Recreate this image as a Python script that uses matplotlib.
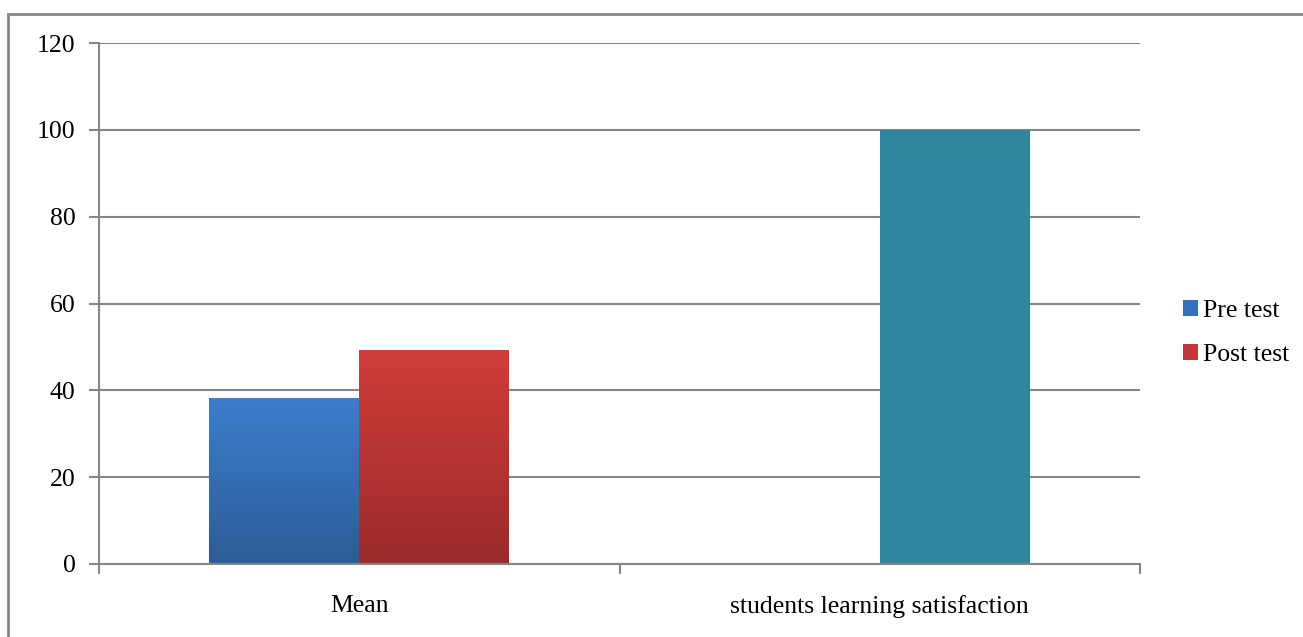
import matplotlib
matplotlib.use("Agg")
import matplotlib.pyplot as plt
import numpy as np
from matplotlib.patches import Rectangle, Patch
from matplotlib.colors import LinearSegmentedColormap

categories = ["Mean", "students learning satisfaction"]
series_names = ["Pre test", "Post test"]
pre_test = [38.3, None]
post_test = [49.4, 100]
yticks = [0, 20, 40, 60, 80, 100, 120]

plt.rcParams['font.family'] = ['Liberation Serif', 'DejaVu Serif']

W, H = 1303, 637
fig = plt.figure(figsize=(W / 100, H / 100), dpi=100)
ax = fig.add_axes([99 / W, 1 - 564 / H, (1140 - 99) / W, (564 - 43) / H])

grid_c = "#868686"
x = np.arange(len(categories))
bw = 0.288

def grad_bar(xc, h, top, bottom):
    bars = ax.bar(xc, h, bw, color=top, zorder=3, linewidth=0)
    b = bars[0]
    cmap = LinearSegmentedColormap.from_list("g", [bottom, top])
    grad = np.linspace(0, 1, 256).reshape(-1, 1)
    im = ax.imshow(grad, cmap=cmap, origin="lower", aspect="auto",
                   extent=[xc - bw / 2, xc + bw / 2, 0, h], zorder=3.5)
    im.set_clip_path(b)

# Pre test
grad_bar(x[0] - bw / 2, pre_test[0], "#3b7ecd", "#2d5c96")
# Post test
grad_bar(x[0] + bw / 2, post_test[0], "#d03d3a", "#9a2b2b")
# satisfaction bar (flat teal)
ax.bar(x[1] + bw / 2, post_test[1], bw, color="#31859c", zorder=3, linewidth=0)

ax.set_xlim(-0.5, 1.5)
ax.set_ylim(0, 120)
ax.set_yticks(yticks)
ax.set_yticklabels([str(t) for t in yticks], fontsize=18.5)
ax.set_xticks([-0.5, 0.5, 1.5], minor=False)
ax.set_xticklabels(["", "", ""])
ax.set_xticks(x, minor=True)
ax.set_xticklabels(categories, minor=True, fontsize=18.5)
ax.tick_params(axis="x", which="minor", length=0, pad=22)
ax.tick_params(axis="x", which="major", length=7, width=1.5, color=grid_c, direction="out")
ax.tick_params(axis="y", length=7, width=1.5, color=grid_c, pad=10)

ax.yaxis.grid(True, color=grid_c, linewidth=1.5, zorder=1)
ax.set_axisbelow(True)
for s in ["top", "right"]:
    ax.spines[s].set_visible(False)
for s in ["left", "bottom"]:
    ax.spines[s].set_color(grid_c)
    ax.spines[s].set_linewidth(1.5)
    ax.spines[s].set_zorder(4)

handles = [Patch(facecolor="#3170bd", edgecolor="none"),
           Patch(facecolor="#c0393a", edgecolor="none")]
leg = fig.legend(handles, series_names, loc="center left",
                 bbox_to_anchor=(1170 / W, 1 - 333 / H), frameon=False,
                 fontsize=18.5, handlelength=0.6, handleheight=0.6,
                 handletextpad=0.2, labelspacing=0.85, borderpad=0)

# outer chart border
fig.patches.append(Rectangle((8 / W, -0.1), 1.2, 1 - 14 / H + 0.1,
                             transform=fig.transFigure, fill=False,
                             edgecolor=grid_c, linewidth=2))

fig.savefig("out.png", dpi=100)
